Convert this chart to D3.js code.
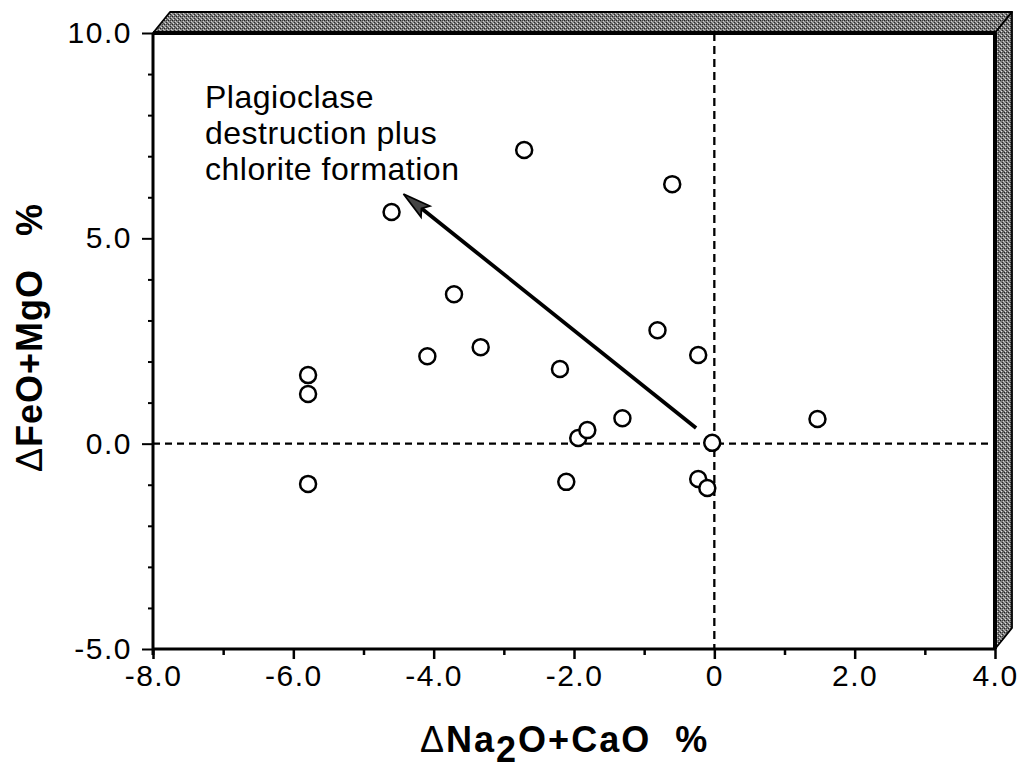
<!DOCTYPE html>
<html><head><meta charset="utf-8">
<script src="https://cdn.jsdelivr.net/npm/d3@7"></script>
<style>
html,body{margin:0;padding:0;background:#fff;}
svg{display:block;font-family:"Liberation Sans",Arial,Helvetica,sans-serif;}
text{white-space:pre;}
</style></head>
<body>
<svg id="chart" width="1031" height="769"></svg>
<script>
// ---- data ----
const xValues = [-5.79, -5.79, -5.79, -4.6, -2.71, -0.6, -3.71, -4.09, -3.33, -2.2, -0.81, -0.23, -1.94, -1.81, -1.31, -2.11, -0.03, -0.23, -0.1, 1.47];
const yValues = [1.67, 1.21, -0.98, 5.64, 7.15, 6.32, 3.64, 2.13, 2.35, 1.82, 2.76, 2.16, 0.14, 0.33, 0.62, -0.93, 0.02, -0.86, -1.08, 0.6];
const xTickValues = [-8, -6, -4, -2, 0, 2, 4];
const xTickLabels = ["-8.0", "-6.0", "-4.0", "-2.0", "0", "2.0", "4.0"];
const xMinorTicks = [-7, -5, -3, -1, 1, 3];
const yTickValues = [10, 5, 0, -5];
const yTickLabels = ["10.0", "5.0", "0.0", "-5.0"];
const yMinorTicks = [9, 8, 7, 6, 4, 3, 2, 1, -1, -2, -3, -4];
const arrowFrom = [-0.26, 0.38];
const arrowTo = [-4.43, 6.08];
const annotationLines = ["Plagioclase", "destruction plus", "chlorite formation"];

// ---- layout ----
const L = 153, R = 995, T = 33, B = 649;
const depthX = 17, depthY = -21;
const svg = d3.select("#chart");
const x = d3.scaleLinear().domain([-8, 4]).range([L, R]);
const y = d3.scaleLinear().domain([-5, 10]).range([B, T]);

// textured pattern for 3D frame
const defs = svg.append("defs");
const pat = defs.append("pattern").attr("id","dither").attr("width",4).attr("height",4).attr("patternUnits","userSpaceOnUse");
pat.append("rect").attr("width",4).attr("height",4).attr("fill","#7c7c7c");
[[0,0,"#222"],[2,2,"#2a2a2a"],[1,3,"#e0e0e0"],[3,1,"#cfcfcf"],[2,0,"#444"],[0,2,"#b0b0b0"],[3,3,"#555"]].forEach(([px,py,c]) =>
  pat.append("rect").attr("x",px).attr("y",py).attr("width",1).attr("height",1).attr("fill",c));

// top band
svg.append("path")
  .attr("d", `M${L},${T} L${L+depthX},${T+depthY} L${R+depthX},${T+depthY} L${R},${T} Z`)
  .attr("fill","url(#dither)").attr("stroke","#000").attr("stroke-width",1.8).attr("stroke-linejoin","round");
// right band
svg.append("path")
  .attr("d", `M${R},${T} L${R+depthX},${T+depthY} L${R+depthX},${B+depthY} L${R},${B} Z`)
  .attr("fill","url(#dither)").attr("stroke","#000").attr("stroke-width",1.8).attr("stroke-linejoin","round");
// thick inner edges
svg.append("line").attr("x1",L).attr("x2",R).attr("y1",T).attr("y2",T).attr("stroke","#000").attr("stroke-width",4);
svg.append("line").attr("x1",R).attr("x2",R).attr("y1",T).attr("y2",B).attr("stroke","#000").attr("stroke-width",4);

// dashed zero lines
svg.append("line").attr("x1",x(-8)).attr("x2",x(4)).attr("y1",y(0)).attr("y2",y(0))
  .attr("stroke","#000").attr("stroke-width",2.3).attr("stroke-dasharray","7,5");
svg.append("line").attr("x1",x(0)).attr("x2",x(0)).attr("y1",y(10)).attr("y2",y(-5))
  .attr("stroke","#000").attr("stroke-width",2.3).attr("stroke-dasharray","8,5");

// axes
const tickFont = 30;
const xAxis = d3.axisBottom(x).tickValues(xTickValues).tickSize(10).tickPadding(6)
  .tickFormat((d,i) => xTickLabels[i]);
const gx = svg.append("g").attr("transform",`translate(0,${B})`).call(xAxis);
gx.select(".domain").attr("stroke-width",3).attr("d",`M${L},0H${R}`);
gx.selectAll(".tick line").attr("stroke-width",2.5);
gx.selectAll(".tick text").attr("font-size",tickFont).attr("font-family","inherit").attr("fill","#000").attr("letter-spacing",1.5);
const gxm = svg.append("g").attr("transform",`translate(0,${B})`)
  .call(d3.axisBottom(x).tickValues(xMinorTicks).tickSize(6).tickFormat(""));
gxm.select(".domain").remove();
gxm.selectAll(".tick line").attr("stroke-width",2.5);

const yAxis = d3.axisLeft(y).tickValues(yTickValues).tickSize(11).tickPadding(10)
  .tickFormat((d,i) => yTickLabels[i]);
const gy = svg.append("g").attr("transform",`translate(${L},0)`).call(yAxis);
gy.select(".domain").attr("stroke-width",3).attr("d",`M0,${T}V${B+6}`);
gy.selectAll(".tick line").attr("stroke-width",2);
gy.selectAll(".tick text").attr("font-size",tickFont).attr("font-family","inherit").attr("fill","#000").attr("letter-spacing",1.5);
const gym = svg.append("g").attr("transform",`translate(${L},0)`)
  .call(d3.axisLeft(y).tickValues(yMinorTicks).tickSize(5).tickFormat(""));
gym.select(".domain").remove();
gym.selectAll(".tick line").attr("stroke-width",2);

// arrow
const ax1 = x(arrowFrom[0]), ay1 = y(arrowFrom[1]);
const ax2 = x(arrowTo[0]), ay2 = y(arrowTo[1]);
const ang = Math.atan2(ay2-ay1, ax2-ax1);
const headLen = 28, headW = 7;
const bx = ax2 - headLen*Math.cos(ang), by = ay2 - headLen*Math.sin(ang);
svg.append("line").attr("x1",ax1).attr("y1",ay1).attr("x2",bx+6*Math.cos(ang)).attr("y2",by+6*Math.sin(ang))
  .attr("stroke","#000").attr("stroke-width",3.8);
const px = -Math.sin(ang), py = Math.cos(ang);
svg.append("path")
  .attr("d",`M${ax2},${ay2} L${bx+headW*px},${by+headW*py} L${bx+5*Math.cos(ang)},${by+5*Math.sin(ang)} L${bx-headW*px},${by-headW*py} Z`)
  .attr("fill","#444").attr("stroke","#000").attr("stroke-width",1.8).attr("stroke-linejoin","miter");

// points
const pts = xValues.map((v,i) => ({x:v, y:yValues[i]}));
svg.append("g").selectAll("circle").data(pts).join("circle")
  .attr("cx", d => x(d.x)).attr("cy", d => y(d.y)).attr("r", 8)
  .attr("fill","#fff").attr("stroke","#000").attr("stroke-width",2.5);

// annotation
const ann = svg.append("text").attr("x",205).attr("y",108).attr("font-size",32).attr("letter-spacing",0.5).attr("fill","#000");
annotationLines.forEach((t,i) => ann.append("tspan").attr("x",205).attr("dy", i===0?0:36).text(t));

// axis titles
const xt = svg.append("text").attr("x",420).attr("y",752).attr("font-size",36).attr("font-weight","bold")
  .attr("letter-spacing",2).attr("fill","#000");
xt.append("tspan").attr("font-weight","normal").text("\u0394");
xt.append("tspan").text("Na");
xt.append("tspan").attr("dy",10).text("2");
xt.append("tspan").attr("dy",-10).text("O+CaO  %");

const yt = svg.append("text").attr("transform","translate(42,472) rotate(-90)")
  .attr("font-size",36).attr("font-weight","bold").attr("letter-spacing",1).attr("fill","#000");
yt.append("tspan").attr("font-weight","normal").text("\u0394");
yt.append("tspan").text("FeO+MgO   %");
</script>
</body></html>
